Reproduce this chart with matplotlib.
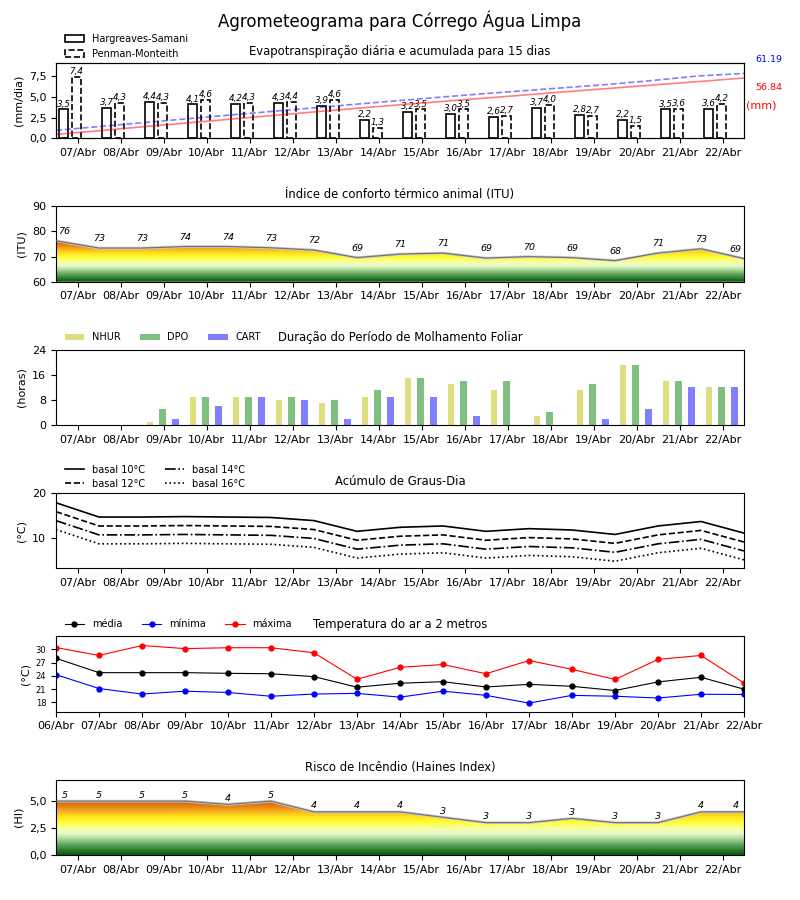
import numpy as np
import matplotlib.pyplot as plt
from matplotlib.colors import LinearSegmentedColormap
from matplotlib.patches import Polygon

# rotulos dos dias
dias = ['07/Abr', '08/Abr', '09/Abr', '10/Abr', '11/Abr', '12/Abr', '13/Abr', '14/Abr',
        '15/Abr', '16/Abr', '17/Abr', '18/Abr', '19/Abr', '20/Abr', '21/Abr', '22/Abr']
dias_temp = ['06/Abr', '07/Abr', '08/Abr', '09/Abr', '10/Abr', '11/Abr', '12/Abr', '13/Abr', '14/Abr',
             '15/Abr', '16/Abr', '17/Abr', '18/Abr', '19/Abr', '20/Abr', '21/Abr', '22/Abr']

# evapotranspiracao (mm/dia) e acumulada (mm)
et_hs = [3.5, 3.7, 4.4, 4.1, 4.2, 4.3, 3.9, 2.2, 3.2, 3.0, 2.6, 3.7, 2.8, 2.2, 3.5, 3.6]
et_pm = [7.4, 4.3, 4.3, 4.6, 4.3, 4.4, 4.6, 1.3, 3.5, 3.5, 2.7, 4.0, 2.7, 1.5, 3.6, 4.2]
acum_hs = [3.8, 7.5, 11.4, 15.1, 18.9, 22.6, 26.3, 29.9, 33.4, 36.8, 40.1, 43.6, 46.9, 50.2, 53.5, 56.84]
acum_pm = [7.6, 11.4, 15.2, 19.0, 22.8, 26.5, 30.2, 33.9, 37.5, 41.0, 44.3, 47.5, 50.7, 54.5, 58.8, 61.19]

# indice de conforto termico
itu = [76.3, 73.4, 73.4, 74.0, 74.0, 73.5, 72.6, 69.6, 71.0, 71.4, 69.4, 70.0, 69.6, 68.4, 71.4, 73.1, 69.2]

# molhamento foliar (horas)
nhur = [0, 0, 1, 9, 9, 8, 7, 9, 15, 13, 11, 3, 11, 19, 14, 12]
dpo = [0, 0, 5, 9, 9, 9, 8, 11, 15, 14, 14, 4, 13, 19, 14, 12]
cart = [0, 0, 2, 6, 9, 8, 2, 9, 9, 3, 0, 0, 2, 5, 12, 12]

# graus-dia
gd10 = [17.8, 14.6, 14.6, 14.7, 14.6, 14.5, 13.8, 11.4, 12.3, 12.6, 11.4, 12.0, 11.7, 10.7, 12.6, 13.6, 11.0]
gd12 = [15.8, 12.6, 12.6, 12.7, 12.6, 12.5, 11.8, 9.4, 10.3, 10.6, 9.4, 10.0, 9.7, 8.7, 10.6, 11.6, 9.0]
gd14 = [13.8, 10.6, 10.6, 10.7, 10.6, 10.5, 9.8, 7.4, 8.3, 8.6, 7.4, 8.0, 7.7, 6.7, 8.6, 9.6, 7.0]
gd16 = [11.8, 8.6, 8.6, 8.7, 8.6, 8.5, 7.8, 5.4, 6.3, 6.6, 5.4, 6.0, 5.7, 4.7, 6.6, 7.6, 5.0]

# temperatura do ar
t_med = [28.0, 24.75, 24.75, 24.75, 24.6, 24.5, 23.85, 21.45, 22.35, 22.7, 21.5, 22.1, 21.65, 20.7, 22.65, 23.7, 21.0]
t_min = [24.3, 21.15, 19.9, 20.55, 20.25, 19.4, 19.9, 20.05, 19.2, 20.55, 19.6, 17.85, 19.6, 19.4, 19.0, 19.85, 19.8]
t_max = [30.45, 28.65, 30.9, 30.2, 30.4, 30.4, 29.25, 23.25, 25.95, 26.6, 24.5, 27.5, 25.5, 23.2, 27.75, 28.65, 22.4]

# risco de incendio (Haines)
haines = [5.0, 5.0, 5.0, 5.0, 4.7, 5.0, 4.0, 4.0, 4.0, 3.5, 3.0, 3.0, 3.4, 3.0, 3.0, 4.0, 4.0]

cmap_risco = LinearSegmentedColormap.from_list('risco', [
    (0.00, '#0f5f0f'), (0.10, '#3a8a3a'), (0.19, '#6aad6a'), (0.29, '#b5dfa0'),
    (0.38, '#ecfccc'), (0.48, '#f8ff9a'), (0.58, '#ffff30'), (0.67, '#ffe61e'),
    (0.77, '#f8b420'), (0.87, '#e88212'), (1.00, '#cc4a06')], N=28)


def virgula(v):
    return ('%.1f' % v).replace('.', ',')


def preenche_gradiente(ax, x, y, vmin, vmax):
    grad = np.linspace(0, 1, 256).reshape(-1, 1)
    im = ax.imshow(grad, extent=[x[0], x[-1], vmin, vmax], origin='lower',
                   aspect='auto', cmap=cmap_risco, zorder=1)
    verts = [(x[0], vmin)] + list(zip(x, y)) + [(x[-1], vmin)]
    poly = Polygon(verts, closed=True, facecolor='none', edgecolor='none')
    ax.add_patch(poly)
    im.set_clip_path(poly)
    ax.plot(x, y, color='0.82', lw=2.0, zorder=2)
    ax.plot(x, y, color='0.45', lw=0.9, zorder=3)


def eixo_dias(ax):
    ax.set_xticks(np.arange(16))
    ax.set_xticklabels(dias, fontsize=8)
    ax.set_xlim(-0.5, 15.5)


fig = plt.figure(figsize=(8, 9), dpi=100)
axs = fig.subplots(6, 1)
fig.subplots_adjust(left=0.07, right=0.93, top=0.93, bottom=0.05, hspace=0.9)
fig.suptitle('Agrometeograma para Córrego Água Limpa', fontsize=12, y=0.988)

x = np.arange(16)
xv = np.arange(17) - 0.5

# 1 - evapotranspiracao
ax = axs[0]
b1 = ax.bar(x - 0.32, et_hs, 0.2, facecolor='white', edgecolor='black', lw=1.2, label='Hargreaves-Samani', zorder=3)
b2 = ax.bar(x - 0.02, et_pm, 0.2, facecolor='white', edgecolor='black', lw=1.2, linestyle='--', label='Penman-Monteith', zorder=3)
for i in range(16):
    ax.text(x[i] - 0.32, et_hs[i] + 0.1, virgula(et_hs[i]), ha='center', va='bottom', fontsize=6.3, style='italic', zorder=4)
    ax.text(x[i] - 0.02, et_pm[i] + 0.1, virgula(et_pm[i]), ha='center', va='bottom', fontsize=6.3, style='italic', zorder=4)
ax.set_ylim(0, 9.1)
ax.set_yticks([0, 2.5, 5, 7.5])
ax.set_yticklabels([virgula(v) for v in [0, 2.5, 5, 7.5]], fontsize=8)
ax.set_ylabel('(mm/dia)', fontsize=8)
eixo_dias(ax)
ax.set_title('Evapotranspiração diária e acumulada para 15 dias', fontsize=8.4)
ax.legend(handles=[b1, b2], loc='lower left', bbox_to_anchor=(0, 0.935), frameon=False, fontsize=7,
          labelspacing=0.5)
ax2 = ax.twinx()
xa = np.linspace(-0.5, 15.5, 16)
ax2.plot(xa, acum_hs, color='red', alpha=0.5, lw=1.2)
ax2.plot(xa, acum_pm, color='blue', alpha=0.5, lw=1.2, linestyle='--')
ax2.set_ylim(0, 71)
ax2.set_yticks([])
ax2.set_xlim(-0.5, 15.5)
ax.text(1.016, 1.04, '%.2f' % acum_pm[-1], color='blue', fontsize=6.8, transform=ax.transAxes, va='center')
ax.text(1.016, 0.68, '%.2f' % acum_hs[-1], color='red', fontsize=6.8, transform=ax.transAxes, va='center')
ax.text(1.003, 0.44, '(mm)', color='red', fontsize=8, transform=ax.transAxes, va='center')

# 2 - ITU
ax = axs[1]
preenche_gradiente(ax, xv, itu, 60, 77)
for i in range(17):
    ax.text(np.clip(xv[i], -0.3, 15.3), itu[i] + 2.0, '%d' % int(itu[i]), ha='center', va='bottom',
            fontsize=6.8, style='italic', zorder=4)
ax.set_ylim(60, 90)
ax.set_yticks([60, 70, 80, 90])
ax.tick_params(axis='y', labelsize=8)
ax.set_ylabel('(ITU)', fontsize=8)
eixo_dias(ax)
ax.set_title('Índice de conforto térmico animal (ITU)', fontsize=8.4)

# 3 - molhamento foliar
ax = axs[2]
ax.bar(x - 0.32, nhur, 0.15, color='y', alpha=0.5, label='NHUR')
ax.bar(x - 0.02, dpo, 0.15, color='g', alpha=0.5, label='DPO')
ax.bar(x + 0.28, cart, 0.15, color='b', alpha=0.5, label='CART')
ax.set_ylim(0, 24)
ax.set_yticks([0, 8, 16, 24])
ax.tick_params(axis='y', labelsize=8)
ax.set_ylabel('(horas)', fontsize=8)
eixo_dias(ax)
ax.set_title('Duração do Período de Molhamento Foliar', fontsize=8.4)
ax.legend(loc='lower left', bbox_to_anchor=(0, 0.98), ncol=3, frameon=False, fontsize=7)

# 4 - graus-dia
ax = axs[3]
ax.plot(xv, gd10, color='black', lw=1.2, linestyle='-', label='basal 10°C')
ax.plot(xv, gd12, color='black', lw=1.2, linestyle='--', label='basal 12°C')
ax.plot(xv, gd14, color='black', lw=1.2, linestyle='-.', label='basal 14°C')
ax.plot(xv, gd16, color='black', lw=1.2, linestyle=':', label='basal 16°C')
ax.set_ylim(3.1, 20)
ax.set_yticks([10, 20])
ax.tick_params(axis='y', labelsize=8)
ax.set_ylabel('(°C)', fontsize=8)
eixo_dias(ax)
ax.set_title('Acúmulo de Graus-Dia', fontsize=8.4)
ax.legend(loc='lower left', bbox_to_anchor=(0, 0.94), ncol=2, frameon=False, fontsize=7,
          labelspacing=0.4)

# 5 - temperatura
ax = axs[4]
xt = np.arange(17)
ax.plot(xt, t_med, color='black', lw=0.8, marker='o', markersize=3.5, label='média')
ax.plot(xt, t_min, color='blue', lw=0.8, marker='o', markersize=3.5, label='mínima')
ax.plot(xt, t_max, color='red', lw=0.8, marker='o', markersize=3.5, label='máxima')
ax.set_xlim(0, 16)
ax.set_xticks(xt)
ax.set_xticklabels(dias_temp, fontsize=8)
ax.set_ylim(15.9, 33)
ax.set_yticks([18, 21, 24, 27, 30])
ax.tick_params(axis='y', labelsize=6)
ax.set_ylabel('(°C)', fontsize=8)
ax.set_title('Temperatura do ar a 2 metros', fontsize=8.4)
ax.legend(loc='lower left', bbox_to_anchor=(0, 0.98), ncol=3, frameon=False, fontsize=7)

# 6 - Haines
ax = axs[5]
preenche_gradiente(ax, xv, haines, 0, 5.2)
for i in range(17):
    ax.text(np.clip(xv[i], -0.3, 15.3), haines[i] + 0.15, '%d' % int(haines[i]), ha='center', va='bottom',
            fontsize=6.8, style='italic', zorder=4)
ax.set_ylim(0, 7)
ax.set_yticks([0, 2.5, 5])
ax.set_yticklabels([virgula(v) for v in [0, 2.5, 5]], fontsize=8)
ax.set_ylabel('(HI)', fontsize=8)
eixo_dias(ax)
ax.set_title('Risco de Incêndio (Haines Index)', fontsize=8.4)

plt.savefig('out.png', dpi=100)
plt.close()
